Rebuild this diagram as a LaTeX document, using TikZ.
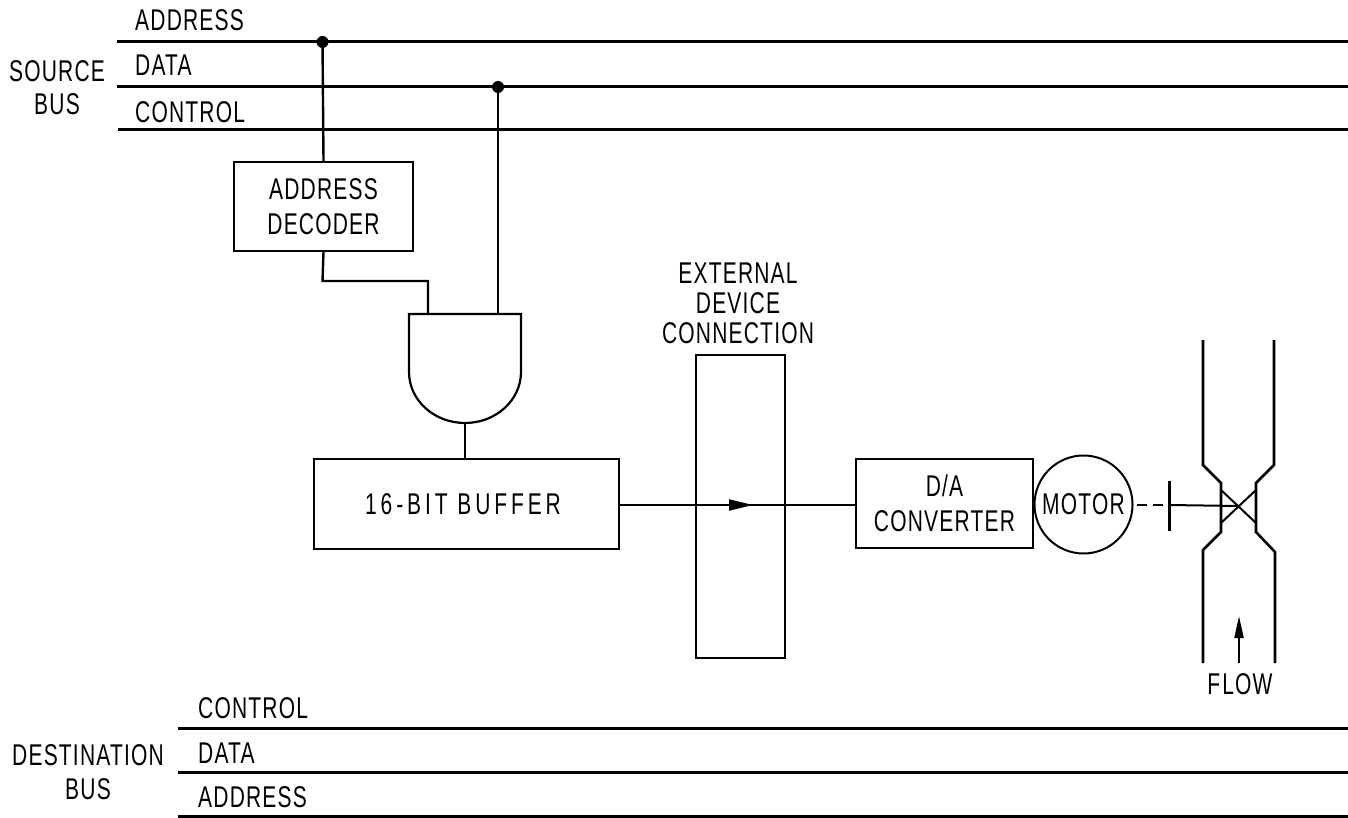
\documentclass[tikz,border=0pt]{standalone}
\usepackage{fontspec}
\setmainfont[FakeStretch=0.70,LetterSpace=4]{Liberation Sans}
\newfontfamily\widefont[FakeStretch=0.70,LetterSpace=13]{Liberation Sans}
\usetikzlibrary{arrows.meta}
\tikzset{
 bus/.style={line width=3pt},
 wire/.style={line width=2.4pt},
 thinwire/.style={line width=2pt},
 pipe/.style={line width=2.6pt,line join=miter},
 blk/.style={draw,line width=2pt,inner sep=0pt,align=center,font=\fontsize{30}{35}\selectfont,anchor=north west},
 lbl/.style={inner sep=0pt,align=center,font=\fontsize{30}{34}\selectfont},
 lbll/.style={lbl,anchor=west},
 dot/.style={circle,fill=black,inner sep=0pt,minimum size=12pt},
 tip/.style={-{Triangle[length=24pt,width=11pt]}},
 tipn/.style={-{Triangle[length=22pt,width=9pt]}}
}
\begin{document}
\begin{tikzpicture}[x=1pt,y=-1pt]
\useasboundingbox (0,0) rectangle (1348,818);
% source bus
\coordinate (sa0) at (117,42); \coordinate (sa1) at (1348,42);
\coordinate (sd0) at (117,87); \coordinate (sd1) at (1348,87);
\coordinate (sc0) at (118,130); \coordinate (sc1) at (1348,130);
\draw[bus] (sa0) -- (sa1);
\draw[bus] (sd0) -- (sd1);
\draw[bus] (sc0) -- (sc1);
\node[lbll] (lsa) at (135,20.5) {ADDRESS};
\node[lbll] (lsd) at (135,65) {DATA};
\node[lbll] (lsc) at (135,112) {CONTROL};
\node[lbl] (lsrc) at (57,87.5) {SOURCE\\[-1pt]BUS};
% destination bus
\coordinate (dc0) at (178,728); \coordinate (dc1) at (1348,728);
\coordinate (dd0) at (178,772); \coordinate (dd1) at (1348,772);
\coordinate (da0) at (178,816); \coordinate (da1) at (1348,816);
\draw[bus] (dc0) -- (dc1);
\draw[bus] (dd0) -- (dd1);
\draw[bus] (da0) -- (da1);
\node[lbll] (ldc) at (198,708) {CONTROL};
\node[lbll] (ldd) at (198,753) {DATA};
\node[lbll] (lda) at (198,797) {ADDRESS};
\node[lbl] (ldst) at (88,772) {DESTINATION\\BUS};
% blocks
\node[blk,minimum width=179pt,minimum height=89pt] (dec) at (233,161) {ADDRESS\\DECODER};
\node[blk,minimum width=305pt,minimum height=90pt] (buf) at (313,458) {{\widefont 16-BIT BUFFER}\kern7pt};
\node[blk,minimum width=89pt,minimum height=303pt] (ext) at (695,354) {};
\node[blk,minimum width=177pt,minimum height=89pt] (da) at (855,458) {D/A\\CONVERTER};
\node[draw,circle,line width=2pt,minimum size=98pt,inner sep=0pt,font=\fontsize{30}{34}\selectfont] (mot) at (1083.5,504.5) {MOTOR};
\node[inner sep=0pt,align=center,font=\fontsize{30}{30}\selectfont] (lext) at (738,303) {EXTERNAL\\DEVICE\\CONNECTION};
% gate
\coordinate (gtl) at (409,314); \coordinate (gtr) at (521,314);
\coordinate (gin1) at (428,314); \coordinate (gin2) at (498,314);
\coordinate (gout) at (465,423);
\draw[line width=2.2pt,line join=miter] (gtl) -- ++(0,58) arc[start angle=180,end angle=360,x radius=56,y radius=-51] -- (gtr) -- cycle;
% dots and wires
\node[dot] (d1) at (322.5,42) {};
\node[dot] (d2) at (498,87) {};
\draw[wire] (d1) -- (dec.north);
\draw[wire] (d2) -- (gin2);
\coordinate (b1) at (322.5,281);
\coordinate (b2) at (428,281);
\draw[wire] (dec.south) -- (b1) -- (b2) -- (gin1);
\draw[wire] (gout) -- (465,458);
\coordinate (arr0) at (728,505);
\coordinate (arr) at (753,505);
\draw[thinwire] (buf.east |- arr) -- (da.west |- arr);
\draw[thinwire,tip] (arr0) -- (arr);
% motor shaft
\coordinate (bart) at (1169,481); \coordinate (barb) at (1169,531);
\coordinate (barm) at (1169,505);
\coordinate (vc) at (1238.5,506);
\draw[line width=2.2pt,dash pattern=on 10pt off 6pt] (1137,505) -- (1165,505);
\draw[line width=3pt] (bart) -- (barb);
\draw[thinwire] (barm) -- (vc);
% valve
\draw[pipe] (1203,340) -- (1203,465) -- (1221,483) -- (1221,532) -- (1203,550) -- (1203,663);
\draw[pipe] (1274,340) -- (1274,465) -- (1256,483) -- (1256,532) -- (1275,552) -- (1275,663);
\draw[line width=2pt] (1221,490) -- (1256,523);
\draw[line width=2pt] (1221,523) -- (1256,490);
% flow
\coordinate (fl0) at (1239,663); \coordinate (fl1) at (1239,616);
\draw[thinwire,tipn] (fl0) -- (fl1);
\node[lbl] (lfl) at (1240,684) {F\kern2pt LOW};
\end{tikzpicture}
\end{document}
